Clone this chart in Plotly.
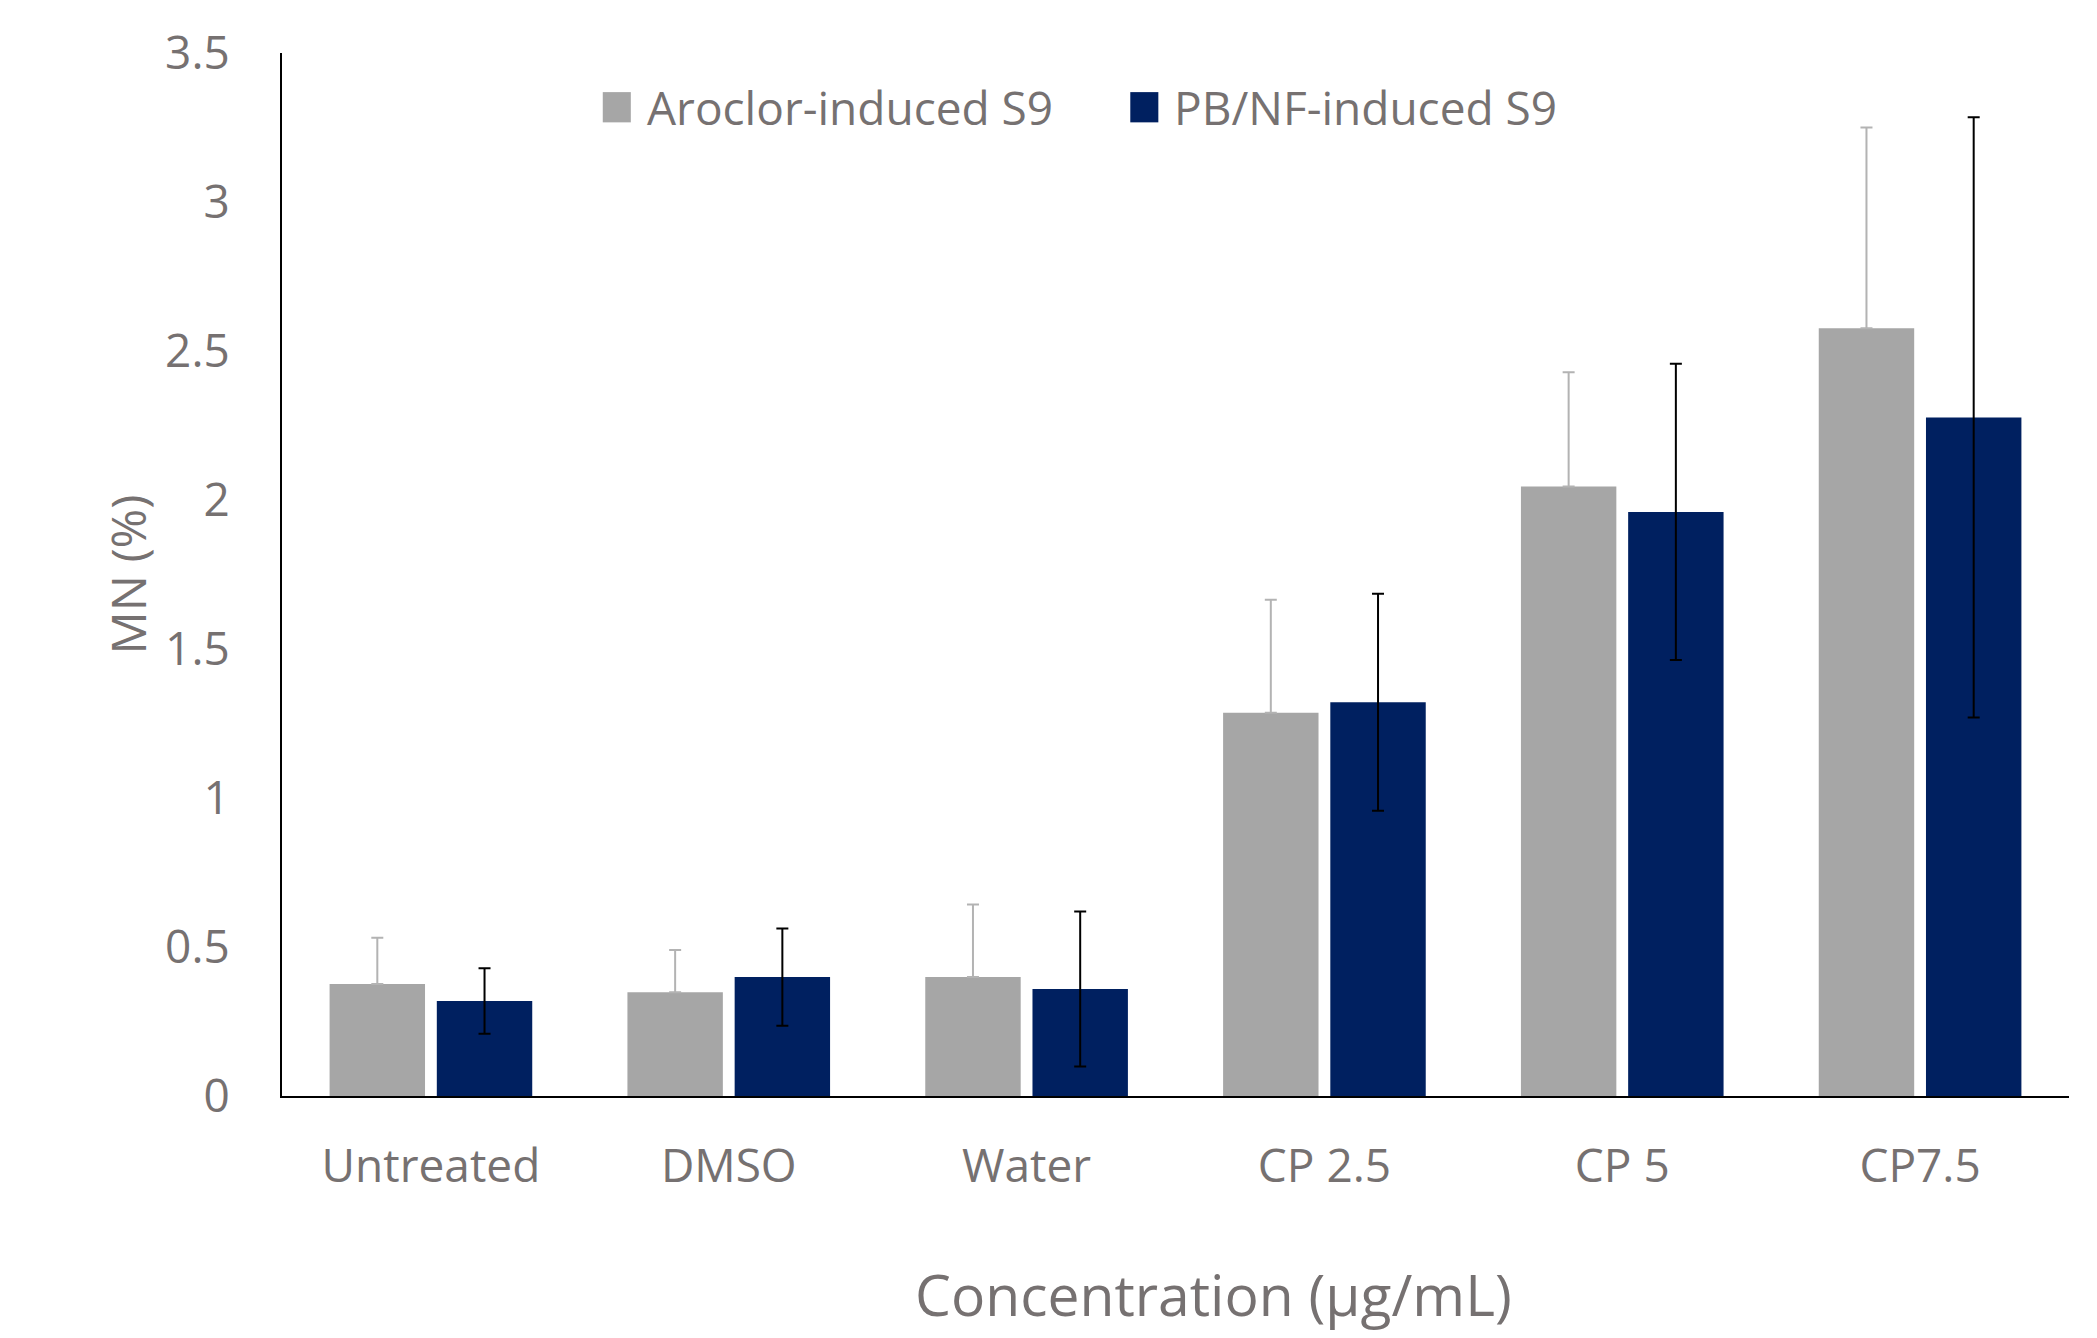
import plotly.graph_objects as go

categories = ["Untreated", "DMSO", "Water", "CP 2.5", "CP 5", "CP7.5"]
aroclor_mean = [0.376, 0.348, 0.399, 1.286, 2.045, 2.576]
aroclor_err = [0.155, 0.142, 0.244, 0.379, 0.384, 0.674]
pbnf_mean = [0.319, 0.399, 0.359, 1.321, 1.960, 2.277]
pbnf_err = [0.110, 0.163, 0.260, 0.364, 0.497, 1.007]
series_names = ["Aroclor-induced S9", "PB/NF-induced S9"]
y_ticks = [0, 0.5, 1, 1.5, 2, 2.5, 3, 3.5]
y_tick_labels = ["0", "0.5", "1", "1.5", "2", "2.5", "3", "3.5"]
x_title = "Concentration (µg/mL)"
y_title = "MN (%)"

GRAY = "#A6A6A6"
NAVY = "#002060"
TEXT = "#767171"
FONT = "Open Sans"

fig = go.Figure()
fig.add_trace(go.Bar(
    x=categories, y=aroclor_mean, name=series_names[0],
    marker=dict(color=GRAY, line=dict(width=0)),
    error_y=dict(type="data", array=aroclor_err, arrayminus=[0] * len(aroclor_err),
                 symmetric=False, color="#B3B3B3", thickness=2, width=6),
    showlegend=False,
))
fig.add_trace(go.Bar(
    x=categories, y=pbnf_mean, name=series_names[1],
    marker=dict(color=NAVY, line=dict(width=0)),
    error_y=dict(type="data", array=pbnf_err, symmetric=True,
                 color="#000000", thickness=2, width=6),
    showlegend=False,
))

# Manual legend (large square swatches as in the reference)
legend_items = [(series_names[0], GRAY, 0.1795), (series_names[1], NAVY, 0.4747)]
for name, col, x0 in legend_items:
    fig.add_shape(type="rect", xref="paper", yref="paper",
                  x0=x0, x1=x0 + 0.0157, y0=0.9335, y1=0.9625,
                  fillcolor=col, line=dict(width=0))
    fig.add_annotation(xref="paper", yref="paper", x=x0 + 0.0235, y=0.948,
                       text=name, showarrow=False, xanchor="left", yanchor="middle",
                       font=dict(family=FONT, size=46, color=TEXT))

# x-axis title (offset to the right of centre, as in the reference)
fig.add_annotation(xref="paper", yref="paper", x=0.521, y=-0.19,
                   text=x_title, showarrow=False, xanchor="center", yanchor="middle",
                   font=dict(family=FONT, size=57, color=TEXT))

fig.update_layout(
    width=2097, height=1338,
    margin=dict(l=274, r=36, t=33, b=250),
    paper_bgcolor="white", plot_bgcolor="white",
    barmode="group", bargap=0.28, bargroupgap=0.11,
    font=dict(family=FONT, color=TEXT),
    xaxis=dict(
        type="category", showline=True, linecolor="black", linewidth=2,
        showgrid=False, ticks="", zeroline=False,
        tickfont=dict(family=FONT, size=46, color=TEXT),
        ticklabelstandoff=29,
    ),
    yaxis=dict(
        range=[0, 3.5], tickvals=y_ticks, ticktext=y_tick_labels,
        showline=True, linecolor="black", linewidth=2,
        showgrid=False, ticks="", zeroline=False,
        tickfont=dict(family=FONT, size=46, color=TEXT),
        ticklabelstandoff=41,
        title=dict(text=y_title, standoff=3,
                   font=dict(family=FONT, size=48, color=TEXT)),
    ),
)

fig.write_html("out.html")
